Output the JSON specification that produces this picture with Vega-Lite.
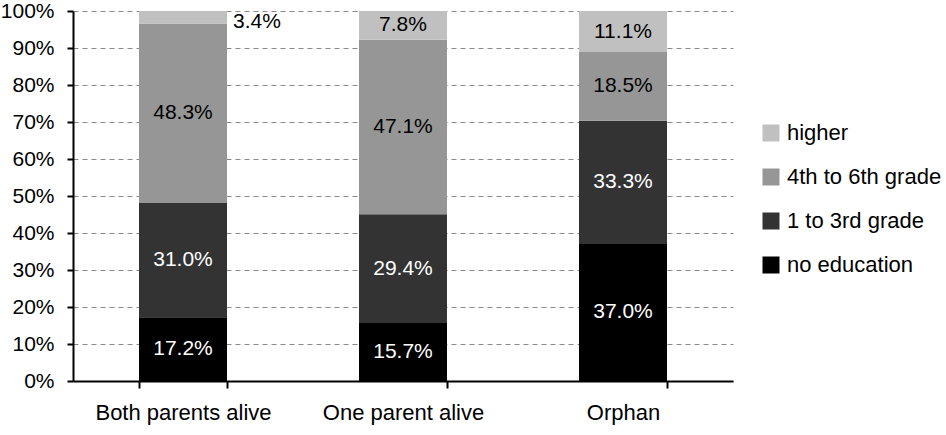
{
  "$schema": "https://vega.github.io/schema/vega-lite/v6.json",
  "width": 660,
  "height": 370,
  "autosize": {"type": "none"},
  "padding": {"left": 73, "top": 11, "right": 213, "bottom": 54},
  "background": "white",
  "config": {
    "view": {"stroke": null},
    "font": "Liberation Sans",
    "axis": {"labelFont": "Liberation Sans", "labelColor": "black", "domainColor": "black", "tickColor": "black"},
    "axisY": {"format": ".0%", "values": [0, 0.1, 0.2, 0.3, 0.4, 0.5, 0.6, 0.7, 0.8, 0.9, 1], "labelOverlap": false, "labelFontSize": 21, "labelPadding": 13, "tickSize": 6, "tickWidth": 2, "domainWidth": 2, "grid": true, "gridColor": "#8a8a8a", "gridDash": [5, 4], "gridWidth": 1.2, "title": null}
  },
  "data": {
    "values": [
      {"group": "Both parents alive", "level": "no education", "rank": 1, "value": 17.2},
      {"group": "Both parents alive", "level": "1 to 3rd grade", "rank": 2, "value": 31.0},
      {"group": "Both parents alive", "level": "4th to 6th grade", "rank": 3, "value": 48.3},
      {"group": "Both parents alive", "level": "higher", "rank": 4, "value": 3.4},
      {"group": "One parent alive", "level": "no education", "rank": 1, "value": 15.7},
      {"group": "One parent alive", "level": "1 to 3rd grade", "rank": 2, "value": 29.4},
      {"group": "One parent alive", "level": "4th to 6th grade", "rank": 3, "value": 47.1},
      {"group": "One parent alive", "level": "higher", "rank": 4, "value": 7.8},
      {"group": "Orphan", "level": "no education", "rank": 1, "value": 37.0},
      {"group": "Orphan", "level": "1 to 3rd grade", "rank": 2, "value": 33.3},
      {"group": "Orphan", "level": "4th to 6th grade", "rank": 3, "value": 18.5},
      {"group": "Orphan", "level": "higher", "rank": 4, "value": 11.1}
    ]
  },
  "transform": [
    {"stack": "value", "groupby": ["group"], "sort": [{"field": "rank", "order": "ascending"}], "offset": "normalize", "as": ["y0", "y1"]},
    {"calculate": "(datum.y0 + datum.y1) / 2", "as": "ymid"},
    {"calculate": "datum.value / 100", "as": "pct"}
  ],
  "layer": [
    {
      "mark": {"type": "bar"},
      "encoding": {
        "x": {
          "field": "group", "type": "nominal", "sort": null, "title": null,
          "scale": {"paddingInner": 0.6, "paddingOuter": 0.3},
          "axis": {"labelAngle": 0, "labelFontSize": 22, "labelPadding": 14, "ticks": true, "tickBand": "extent", "tickSize": 7, "tickWidth": 2, "tickColor": "black", "domainWidth": 2, "grid": false}
        },
        "y": {
          "field": "y0", "type": "quantitative", "title": null,
          "scale": {"domain": [0, 1], "nice": false}
        },
        "y2": {"field": "y1"},
        "color": {
          "field": "level", "type": "nominal", "title": null,
          "scale": {"domain": ["higher", "4th to 6th grade", "1 to 3rd grade", "no education"], "range": ["#c0c0c0", "#969696", "#333333", "#000000"]},
          "legend": {"orient": "none", "legendX": 687, "legendY": 111, "symbolType": "square", "symbolSize": 289, "symbolStrokeWidth": 0, "labelFontSize": 22, "labelOffset": 5, "rowPadding": 22, "padding": 0, "labelColor": "black", "labelFont": "Liberation Sans"}
        }
      }
    },
    {
      "transform": [{"filter": "datum.value >= 5"}],
      "mark": {"type": "text", "fontSize": 21, "baseline": "middle", "align": "center"},
      "encoding": {
        "x": {"field": "group", "type": "nominal", "sort": null},
        "y": {"field": "ymid", "type": "quantitative", "title": null},
        "text": {"field": "pct", "type": "quantitative", "format": ".1%"},
        "color": {
          "condition": {"test": "datum.level == 'no education' || datum.level == '1 to 3rd grade'", "value": "white"},
          "value": "black"
        }
      }
    },
    {
      "transform": [{"filter": "datum.value < 5"}],
      "mark": {"type": "text", "fontSize": 21, "baseline": "middle", "align": "left", "dx": 50, "dy": 5, "color": "black"},
      "encoding": {
        "x": {"field": "group", "type": "nominal", "sort": null},
        "y": {"field": "ymid", "type": "quantitative", "title": null},
        "text": {"field": "pct", "type": "quantitative", "format": ".1%"}
      }
    }
  ]
}
